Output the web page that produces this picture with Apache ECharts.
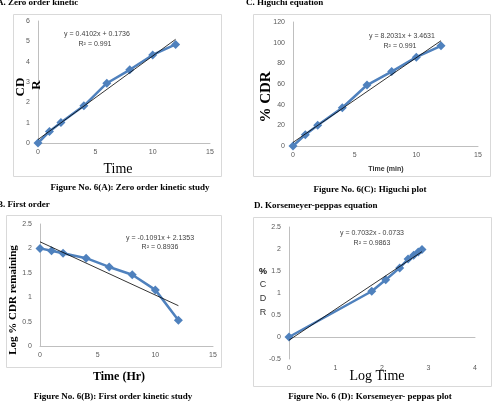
<!DOCTYPE html>
<html>
<head>
<meta charset="utf-8">
<script src="https://cdn.jsdelivr.net/npm/echarts@6/dist/echarts.min.js"></script>
<style>
  html, body { margin: 0; padding: 0; background: #fff; }
  #chart { width: 493px; height: 406px; }
</style>
</head>
<body>
<div id="chart"></div>
<script>
'use strict';
// release data, time in hours
var timeHr = [0, 1, 2, 4, 6, 8, 10, 12];
var cdrZero = [0, 0.57, 1.01, 1.83, 2.94, 3.6, 4.33, 4.85];
var cdrHiguchi = [0, 11, 20, 37, 59, 72, 86, 97];
var logRemaining = [2.0, 1.95, 1.9, 1.8, 1.62, 1.46, 1.15, 0.53];
var logTime = [0, 1.78, 2.08, 2.38, 2.56, 2.68, 2.78, 2.86];
var logCdr = [0, 1.04, 1.3, 1.57, 1.77, 1.86, 1.93, 1.99];
// trend line ends
var trendZero = [[0, 0.17], [12, 5.1]];
var trendHiguchi = [[0, 3.46], [12, 101.9]];
var trendFirst = [[0, 2.135], [12, 0.826]];
var trendPeppas = [[0, -0.073], [2.86, 1.94]];

var blue = '#4f81bd';
var tickCol = '#595959';
var axisCol = '#bfbfbf';
var serif = '"Liberation Serif", "DejaVu Serif", serif';
var sans = '"Liberation Sans", "DejaVu Sans", sans-serif';

function pairs(xs, ys) {
  var out = [];
  for (var i = 0; i < xs.length; i++) {
    out.push([xs[i], ys[i]]);
  }
  return out;
}

function xAx(idx, min, max, step) {
  return {
    type: 'value', gridIndex: idx, min: min, max: max, interval: step,
    splitLine: { show: false }, axisTick: { show: false },
    axisLine: { onZero: true, lineStyle: { color: axisCol } },
    axisLabel: { color: tickCol, fontSize: 7, fontFamily: sans, margin: 6 }
  };
}
function yAx(idx, min, max, step) {
  return {
    type: 'value', gridIndex: idx, min: min, max: max, interval: step,
    splitLine: { show: false }, axisTick: { show: false },
    axisLine: { show: true, onZero: true, lineStyle: { color: axisCol } },
    axisLabel: { color: tickCol, fontSize: 7, fontFamily: sans, margin: 8 }
  };
}
function dataSeries(idx, pts) {
  return {
    type: 'line', xAxisIndex: idx, yAxisIndex: idx, data: pts,
    symbol: 'diamond', symbolSize: 9, showSymbol: true,
    lineStyle: { color: blue, width: 2.5 },
    itemStyle: { color: blue }, z: 3, animation: false
  };
}
function trendSeries(idx, pts) {
  return {
    type: 'line', xAxisIndex: idx, yAxisIndex: idx, data: pts,
    symbol: 'none', lineStyle: { color: '#000', width: 0.8 }, z: 4, animation: false
  };
}
function txt(x, y, s, opt) {
  var st = {
    text: s, fill: opt.fill || '#000', fontSize: opt.size || 7,
    fontFamily: opt.family || sans, fontWeight: opt.weight || 'normal',
    align: opt.align || 'center', verticalAlign: 'middle'
  };
  return { type: 'text', x: x, y: y, rotation: opt.rot || 0, style: st, z: 10 };
}
function frame(x, y, w, h) {
  return { type: 'rect', shape: { x: x, y: y, width: w, height: h },
    style: { fill: 'none', stroke: '#d9d9d9', lineWidth: 1 }, z: 0 };
}

var chart = echarts.init(document.getElementById('chart'), null, { renderer: 'canvas' });
var eq = { size: 7, fill: '#404040' };
var capt = { size: 9, family: serif, weight: 'bold' };

chart.setOption({
  animation: false,
  grid: [
    { left: 38, top: 21, width: 172, height: 122 },
    { left: 40, top: 224, width: 173, height: 122 },
    { left: 293, top: 22, width: 185, height: 124 },
    { left: 289, top: 227, width: 186, height: 132 }
  ],
  xAxis: [xAx(0, 0, 15, 5), xAx(1, 0, 15, 5), xAx(2, 0, 15, 5), xAx(3, 0, 4, 1)],
  yAxis: [yAx(0, 0, 6, 1), yAx(1, 0, 2.5, 0.5), yAx(2, 0, 120, 20), yAx(3, -0.5, 2.5, 0.5)],
  series: [
    dataSeries(0, pairs(timeHr, cdrZero)), trendSeries(0, trendZero),
    dataSeries(1, pairs(timeHr, logRemaining)), trendSeries(1, trendFirst),
    dataSeries(2, pairs(timeHr, cdrHiguchi)), trendSeries(2, trendHiguchi),
    dataSeries(3, pairs(logTime, logCdr)), trendSeries(3, trendPeppas)
  ],
  graphic: [
    frame(13.5, 14.5, 208, 162),
    frame(6.5, 215.5, 215, 152),
    frame(253.5, 14.5, 237, 162),
    frame(253.5, 217.5, 238, 169),
    // panel titles
    txt(-3, 3, 'A. Zero order kinetic', { size: 9, family: serif, weight: 'bold', align: 'left' }),
    txt(-3, 205, 'B. First order', { size: 9, family: serif, weight: 'bold', align: 'left' }),
    txt(246, 3, 'C. Higuchi equation', { size: 9, family: serif, weight: 'bold', align: 'left' }),
    txt(254, 206, 'D. Korsemeyer-peppas equation', { size: 9, family: serif, weight: 'bold', align: 'left' }),
    // captions
    txt(130, 188, 'Figure No. 6(A): Zero order kinetic study', capt),
    txt(113, 397, 'Figure No. 6(B): First order kinetic study', capt),
    txt(370, 190, 'Figure No. 6(C): Higuchi plot', capt),
    txt(370, 397, 'Figure No. 6 (D): Korsemeyer- peppas plot', capt),
    // equations
    txt(97, 34, 'y = 0.4102x + 0.1736', eq), txt(95, 44, 'R² = 0.991', eq),
    txt(160, 238, 'y = -0.1091x + 2.1353', eq), txt(160, 247, 'R² = 0.8936', eq),
    txt(402, 36, 'y = 8.2031x + 3.4631', eq), txt(400, 46, 'R² = 0.991', eq),
    txt(372, 233, 'y = 0.7032x - 0.0733', eq), txt(372, 243, 'R² = 0.9863', eq),
    // axis names
    txt(118, 169, 'Time', { size: 14, family: serif }),
    txt(21, 87, 'CD', { size: 13, family: serif, weight: 'bold', rot: Math.PI / 2 }),
    txt(37, 85, 'R', { size: 13, family: serif, weight: 'bold', rot: Math.PI / 2 }),
    txt(119, 377, 'Time (Hr)', { size: 12, family: serif, weight: 'bold' }),
    txt(13, 300, 'Log % CDR remaining', { size: 11, family: serif, weight: 'bold', rot: Math.PI / 2 }),
    txt(386, 169, 'Time (min)', { size: 7, weight: 'bold', fill: '#333' }),
    txt(266, 97, '% CDR', { size: 15, family: serif, weight: 'bold', rot: Math.PI / 2 }),
    txt(377, 376, 'Log Time', { size: 14, family: serif }),
    txt(263, 272, '%', { size: 9, weight: 'bold' }),
    txt(263, 285, 'C', { size: 9, fill: '#333' }),
    txt(263, 299, 'D', { size: 9, fill: '#333' }),
    txt(263, 313, 'R', { size: 9, fill: '#333' })
  ]
});
</script>
</body>
</html>
